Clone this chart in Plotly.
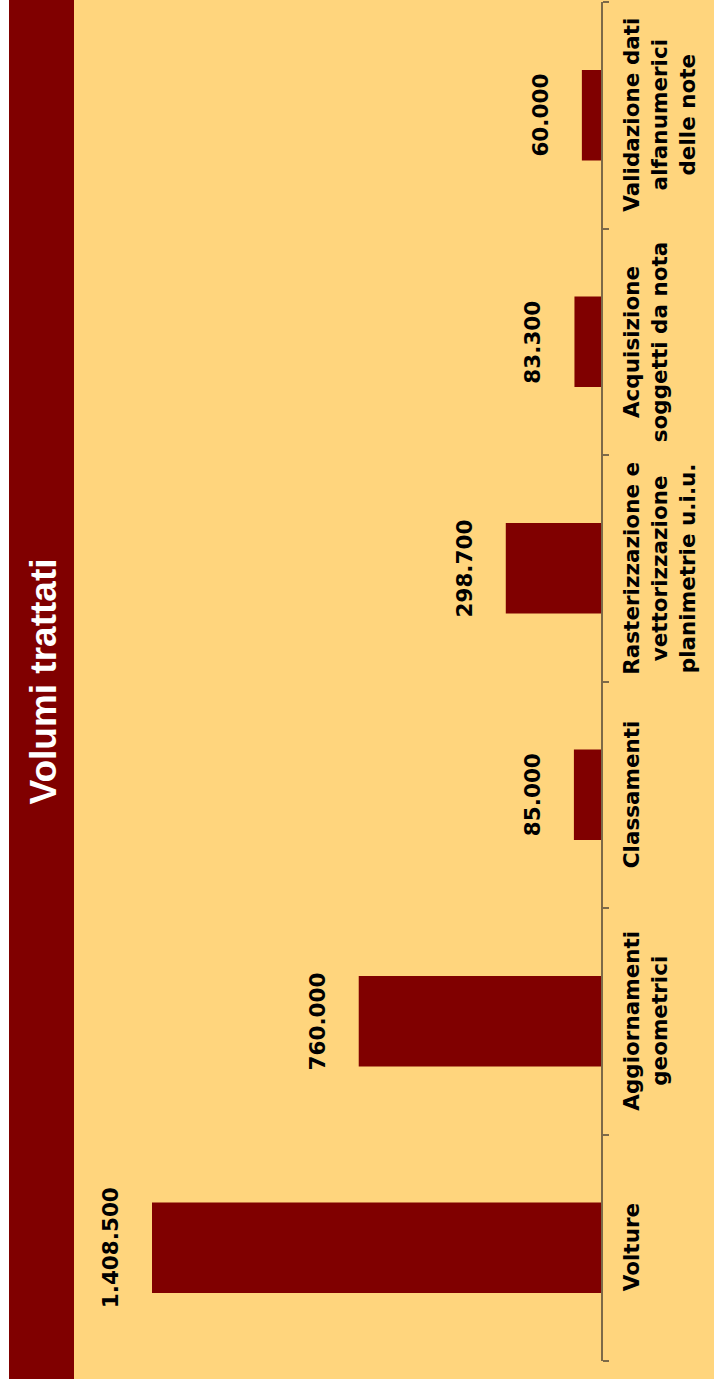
import plotly.graph_objects as go

# ---- data ----
categories = ["Volture", "Aggiornamenti geometrici", "Classamenti",
              "Rasterizzazione e vettorizzazione planimetrie u.i.u.",
              "Acquisizione soggetti da nota",
              "Validazione dati alfanumerici delle note"]
category_labels = ["Volture", "Aggiornamenti<br>geometrici", "Classamenti",
                   "Rasterizzazione e<br>vettorizzazione<br>planimetrie u.i.u.",
                   "Acquisizione<br>soggetti da nota",
                   "Validazione dati<br>alfanumerici<br>delle note"]
values = [1408500, 760000, 85000, 298700, 83300, 60000]
title_text = "Volumi trattati"

# ---- style ----
YELLOW = "#FFD57D"
DARKRED = "#800000"
AXIS = "#7D6A48"
W, H = 714, 1379
L, R, T, B = 74, 113, 2, 18
PW = W - L - R
PH = H - T - B
XMAX = 1653170
FS = 21.5

def px2paper_x(px):
    return (px - L) / PW

fig = go.Figure(go.Bar(
    x=values, y=categories, orientation="h",
    marker=dict(color=DARKRED, line=dict(width=0)),
    hoverinfo="x+y",
))

annotations = []
for c, v in zip(categories, values):
    annotations.append(dict(
        x=v, y=c, xref="x", yref="y", text=f"{v:,}".replace(",", "."),
        textangle=-90, showarrow=False, xanchor="right", yanchor="middle",
        xshift=-27,
        font=dict(family="DejaVu Sans", size=FS, color="black", weight="bold"),
    ))
for c, lab in zip(categories, category_labels):
    annotations.append(dict(
        x=px2paper_x(617), y=c, xref="paper", yref="y", text=lab,
        textangle=-90, showarrow=False, xanchor="left", yanchor="middle",
        align="center",
        font=dict(family="DejaVu Sans", size=FS, color="black", weight="bold"),
    ))
annotations.append(dict(
    x=px2paper_x(43), y=0.5, xref="paper", yref="paper", text=title_text,
    textangle=-90, showarrow=False, xanchor="center", yanchor="middle",
    font=dict(family="Liberation Sans", size=37, color="white", weight="bold"),
))

shapes = [
    dict(type="rect", xref="paper", yref="paper", layer="below",
         x0=px2paper_x(9), x1=px2paper_x(74), y0=-0.05, y1=1.05,
         fillcolor=DARKRED, line=dict(width=0)),
    dict(type="rect", xref="paper", yref="paper", layer="below",
         x0=px2paper_x(-5), x1=px2paper_x(9), y0=-0.05, y1=1.05,
         fillcolor="white", line=dict(width=0)),
]

fig.update_layout(
    width=W, height=H,
    margin=dict(l=L, r=R, t=T, b=B, pad=0),
    paper_bgcolor=YELLOW, plot_bgcolor=YELLOW,
    showlegend=False, bargap=0.6,
    annotations=annotations, shapes=shapes,
    xaxis=dict(range=[XMAX, 0], visible=False, fixedrange=True),
    yaxis=dict(
        type="category", categoryorder="array", categoryarray=categories,
        range=[-0.5, len(categories) - 0.5], side="right",
        showline=True, linecolor=AXIS, linewidth=1.5,
        ticks="outside", tickson="boundaries", ticklen=6, tickwidth=1.5,
        tickcolor=AXIS, showticklabels=False, showgrid=False, zeroline=False,
        fixedrange=True,
    ),
)

fig.write_html("out.html")
